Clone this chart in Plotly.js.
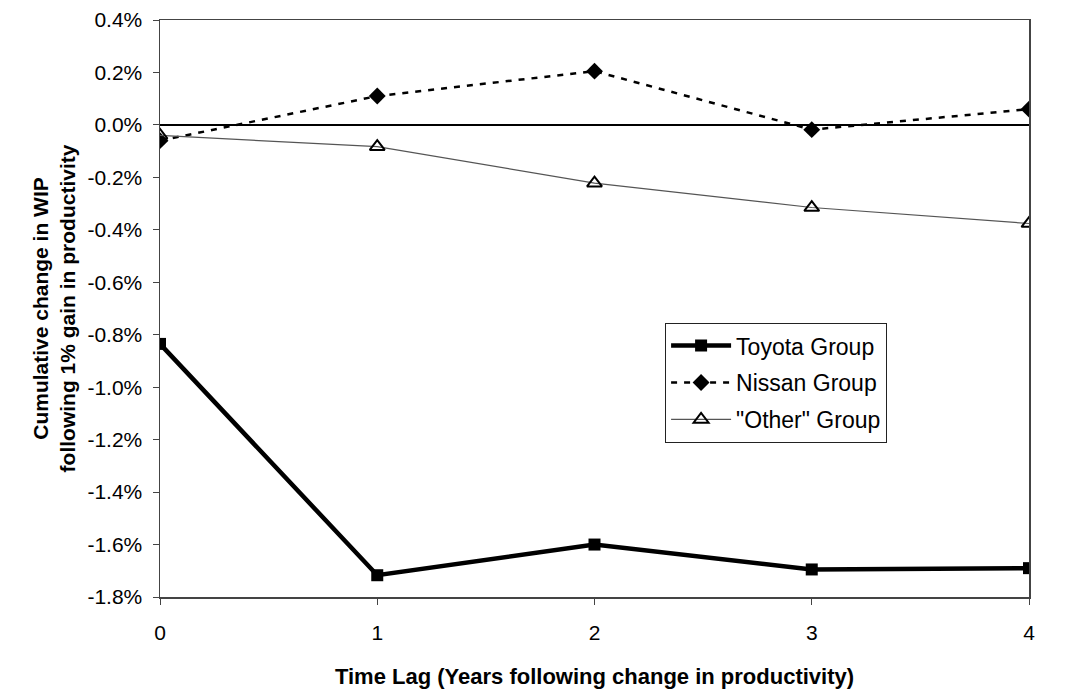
<!DOCTYPE html>
<html>
<head>
<meta charset="utf-8">
<script src="https://cdn.plot.ly/plotly-3.0.1.min.js"></script>
<style>html,body{margin:0;padding:0;background:#fff;}#chart{width:1092px;height:698px;}</style>
</head>
<body>
<div id="chart"></div>
<script>
const lags = [0, 1, 2, 3, 4];
const toyota = [-0.835, -1.717, -1.600, -1.695, -1.690];
const nissan = [-0.060, 0.110, 0.205, -0.018, 0.060];
const other = [-0.040, -0.083, -0.222, -0.315, -0.376];
const yTickVals = [0.4, 0.2, 0.0, -0.2, -0.4, -0.6, -0.8, -1.0, -1.2, -1.4, -1.6, -1.8];
const yTickLabels = ["0.4%", "0.2%", "0.0%", "-0.2%", "-0.4%", "-0.6%", "-0.8%", "-1.0%", "-1.2%", "-1.4%", "-1.6%", "-1.8%"];
const xTickLabels = ["0", "1", "2", "3", "4"];

const font = {family: "Arial, 'Liberation Sans', sans-serif", color: "#000"};

const traces = [
  {x: lags, y: toyota, name: "Toyota Group", mode: "lines+markers", legendgroup: "a",
   line: {color: "#000", width: 4.5}, marker: {symbol: "square", size: 12, color: "#000"}},
  {x: lags, y: nissan, name: "Nissan Group", mode: "lines+markers", legendgroup: "b",
   line: {color: "#000", width: 2.5, dash: "6px,7px"}, marker: {symbol: "diamond", size: 13, color: "#000"}},
  {x: lags, y: other, name: "\"Other\" Group", mode: "lines+markers", legendgroup: "c",
   line: {color: "#555", width: 1.2}, marker: {symbol: "triangle-up-open", size: 13, color: "#000", line: {width: 2, color: "#000"}}}
];

const layout = {
  width: 1092, height: 698,
  margin: {l: 160, r: 63, t: 20, b: 101},
  paper_bgcolor: "#fff", plot_bgcolor: "#fff",
  font: Object.assign({size: 21}, font),
  showlegend: true,
  legend: {x: 0.581, y: 0.475, xanchor: "left", yanchor: "top",
    bordercolor: "#222", borderwidth: 1.2, bgcolor: "#fff",
    font: Object.assign({size: 23}, font), tracegroupgap: 4, itemwidth: 60},
  xaxis: {
    range: [0, 4], tickvals: lags, ticktext: xTickLabels,
    showgrid: false, zeroline: false, showline: true, mirror: true,
    linecolor: "#444", linewidth: 1.5, ticks: "outside", ticklen: 6, tickcolor: "#444",
    tickfont: Object.assign({size: 21}, font), ticklabelstandoff: 10,
    title: {text: "<b>Time Lag (Years following change in productivity)</b>",
      font: Object.assign({size: 22}, font), standoff: 26}
  },
  yaxis: {
    range: [-1.8, 0.4], tickvals: yTickVals, ticktext: yTickLabels,
    showgrid: false, zeroline: true, zerolinecolor: "#000", zerolinewidth: 1.5,
    showline: true, mirror: true, linecolor: "#444", linewidth: 1.5,
    ticks: "outside", ticklen: 6, tickcolor: "#444",
    tickfont: Object.assign({size: 21}, font), ticklabelstandoff: 6,
    title: {text: "<b>Cumulative change in WIP<br>following 1% gain in productivity</b>",
      font: Object.assign({size: 21}, font), standoff: 6}
  }
};

Plotly.newPlot("chart", traces, layout, {displayModeBar: false, staticPlot: true});
</script>
</body>
</html>
